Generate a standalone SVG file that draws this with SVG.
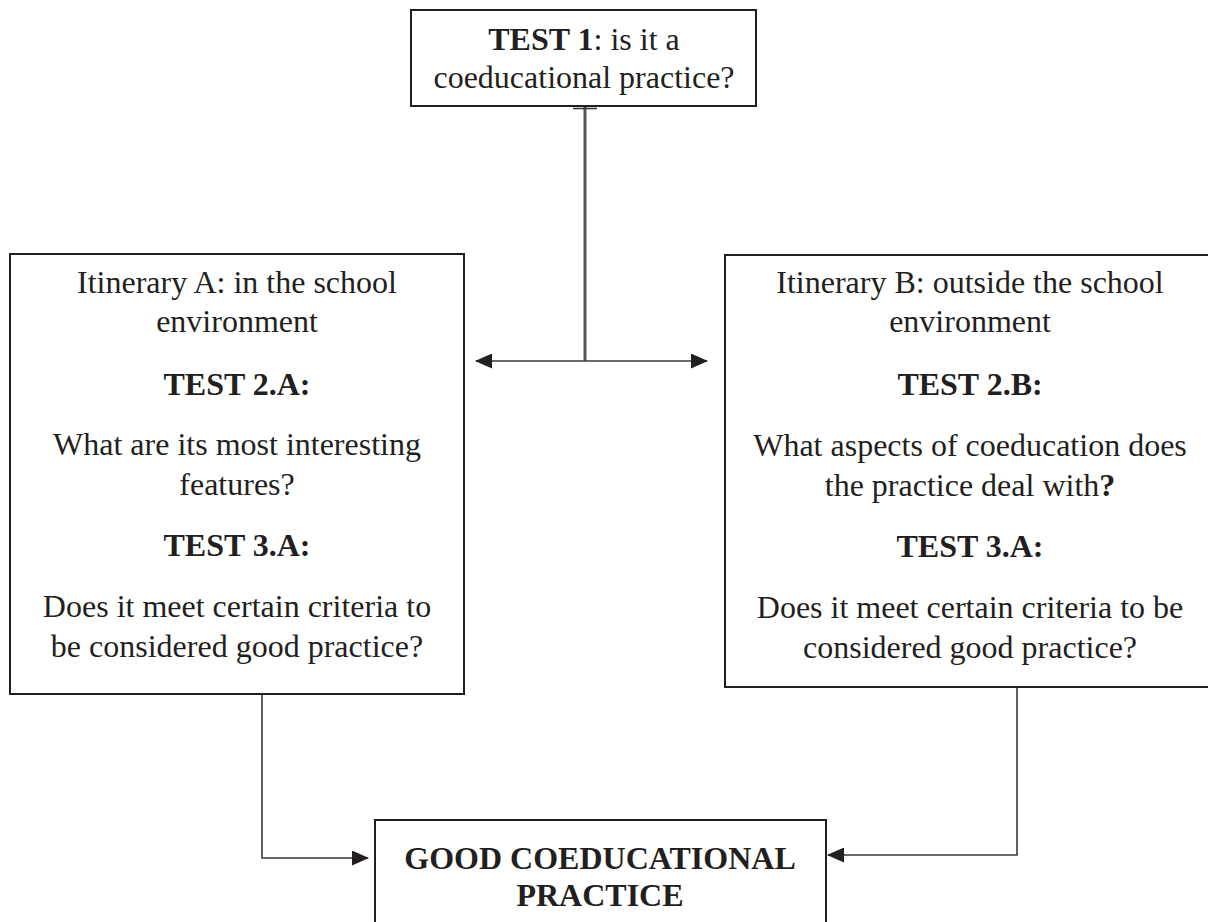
<svg xmlns="http://www.w3.org/2000/svg" width="1208" height="922" viewBox="0 0 1208 922">
<defs>
<style>
.box{fill:#fff;stroke:#231f20;stroke-width:2}
.t{font-family:"Liberation Serif","Times New Roman",serif;font-size:32px;fill:#231f20;text-anchor:middle}
.b{font-weight:bold}
.c{fill:none;stroke:#3a3a3a;stroke-width:1.6}
.c2{fill:none;stroke:#555;stroke-width:3}
</style>
<marker id="ah" viewBox="0 0 17 15" refX="16" refY="7.5" markerWidth="17" markerHeight="15" markerUnits="userSpaceOnUse" orient="auto">
<path d="M0,0 L17,7.5 L0,15 z" fill="#231f20"/>
</marker>
</defs>
<g id="connectors">
<path class="c2" d="M585,106 V361"/>
<path class="c" d="M573,108.5 H597" stroke-width="2.5"/>
<path class="c" d="M585,361 H476" marker-end="url(#ah)"/>
<path class="c" d="M585,361 H707" marker-end="url(#ah)"/>
<path class="c" d="M262,683 V858 H368" marker-end="url(#ah)"/>
<path class="c" d="M262,683 H265"/>
<path class="c" d="M1017,677 V855 H828" marker-end="url(#ah)"/>
<path class="c" d="M1017,677 H1020"/>
</g>
<g id="test1">
<rect class="box" x="411" y="10" width="345" height="96"/>
<text class="t" x="584" y="50"><tspan class="b">TEST 1</tspan>: is it a</text>
<text class="t" x="584" y="88">coeducational practice?</text>
</g>
<g id="itineraryA">
<rect class="box" x="10" y="254" width="454" height="440"/>
<text class="t" x="237" y="293">Itinerary A: in the school</text>
<text class="t" x="237" y="332">environment</text>
<text class="t b" x="237" y="395">TEST 2.A:</text>
<text class="t" x="237" y="455">What are its most interesting</text>
<text class="t" x="237" y="495">features?</text>
<text class="t b" x="237" y="556">TEST 3.A:</text>
<text class="t" x="237" y="617">Does it meet certain criteria to</text>
<text class="t" x="237" y="657">be considered good practice?</text>
</g>
<g id="itineraryB">
<rect class="box" x="725" y="255" width="495" height="432"/>
<text class="t" x="970" y="293">Itinerary B: outside the school</text>
<text class="t" x="970" y="332">environment</text>
<text class="t b" x="970" y="395">TEST 2.B:</text>
<text class="t" x="970" y="456">What aspects of coeducation does</text>
<text class="t" x="970" y="496">the practice deal with<tspan class="b">?</tspan></text>
<text class="t b" x="970" y="557">TEST 3.A:</text>
<text class="t" x="970" y="618">Does it meet certain criteria to be</text>
<text class="t" x="970" y="658">considered good practice?</text>
</g>
<g id="good">
<rect class="box" x="375" y="820" width="451" height="120"/>
<text class="t b" x="600" y="869">GOOD COEDUCATIONAL</text>
<text class="t b" x="600" y="906">PRACTICE</text>
</g>
</svg>
